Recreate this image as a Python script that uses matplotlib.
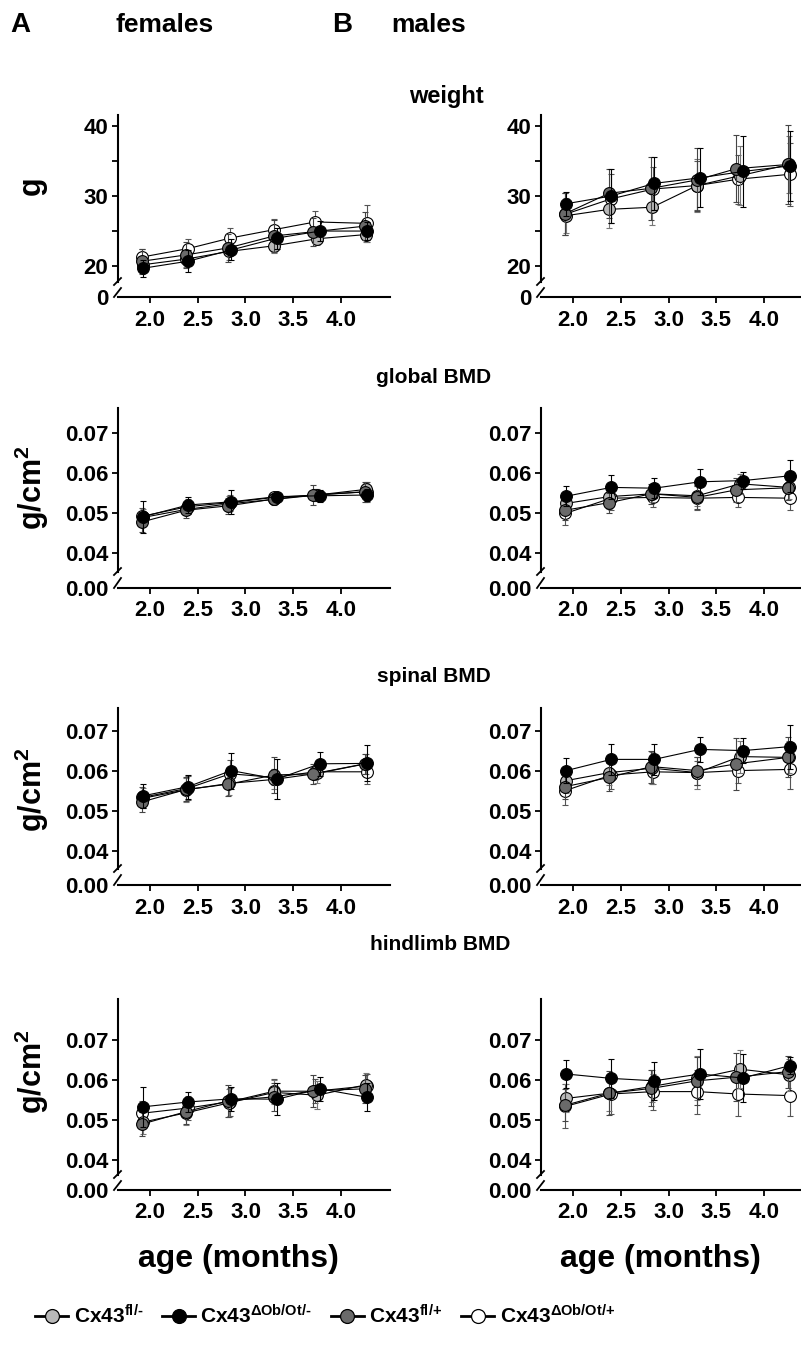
import numpy as np
import matplotlib
matplotlib.use('Agg')
import matplotlib.pyplot as plt
from matplotlib.lines import Line2D

plt.rcParams['font.family'] = ['Liberation Sans', 'DejaVu Sans']
plt.rcParams['font.weight'] = 'bold'
plt.rcParams['mathtext.fontset'] = 'custom'
plt.rcParams['mathtext.rm'] = 'Liberation Sans:bold'
plt.rcParams['mathtext.bf'] = 'Liberation Sans:bold'
plt.rcParams['mathtext.it'] = 'Liberation Sans:bold'

# groups (order: fl/-, dOb/Ot/-, fl/+, dOb/Ot/+)
groups = ['Cx43$^{\\mathbf{fl/\u2010}}$', 'Cx43$^{\\mathbf{ΔOb/Ot/\u2010}}$',
          'Cx43$^{\\mathbf{fl/{+}}}$', 'Cx43$^{\\mathbf{ΔOb/Ot/{+}}}$']
colors = ['#b8b8b8', '#000000', '#6a6a6a', '#ffffff']
ecolors = ['#777777', '#000000', '#444444', '#555555']

# age (months) per group, slightly staggered as in the original
ages = [[1.93, 2.38, 2.83, 3.30, 3.75, 4.26],
        [1.93, 2.40, 2.85, 3.33, 3.78, 4.27],
        [1.92, 2.38, 2.82, 3.30, 3.71, 4.25],
        [1.92, 2.40, 2.84, 3.30, 3.73, 4.27]]

# ---- females ----
fem_weight = [[20.2, 21.0, 22.1, 22.9, 23.9, 24.5],
              [19.7, 20.7, 22.3, 24.0, 25.0, 25.0],
              [20.7, 21.6, 22.6, 24.3, 24.9, 25.7],
              [21.3, 22.5, 24.0, 25.2, 26.3, 26.1]]
fem_weight_sd = [[1.0, 1.2, 1.3, 1.0, 0.9, 1.0],
                 [1.2, 1.6, 1.5, 1.5, 1.4, 1.3],
                 [1.8, 1.9, 2.0, 2.3, 2.0, 2.0],
                 [1.2, 1.3, 1.5, 1.5, 1.5, 2.6]]
fem_global = [[0.0489, 0.0509, 0.0523, 0.0534, 0.0545, 0.0559],
              [0.0491, 0.0520, 0.0528, 0.0541, 0.0543, 0.0545],
              [0.0478, 0.0507, 0.0518, 0.0535, 0.0545, 0.0553],
              [0.0492, 0.0516, 0.0526, 0.0539, 0.0545, 0.0553]]
fem_global_sd = [[0.0020, 0.0015, 0.0020, 0.0015, 0.0015, 0.0015],
                 [0.0040, 0.0020, 0.0030, 0.0010, 0.0015, 0.0015],
                 [0.0025, 0.0020, 0.0020, 0.0012, 0.0025, 0.0025],
                 [0.0020, 0.0018, 0.0020, 0.0012, 0.0015, 0.0025]]
fem_spinal = [[0.0532, 0.0553, 0.0569, 0.0579, 0.0594, 0.0618],
              [0.0538, 0.0561, 0.0601, 0.0580, 0.0618, 0.0619],
              [0.0523, 0.0554, 0.0567, 0.0590, 0.0593, 0.0618],
              [0.0534, 0.0557, 0.0593, 0.0584, 0.0598, 0.0598]]
fem_spinal_sd = [[0.0025, 0.0030, 0.0030, 0.0025, 0.0025, 0.0025],
                 [0.0030, 0.0030, 0.0045, 0.0050, 0.0030, 0.0045],
                 [0.0025, 0.0030, 0.0030, 0.0045, 0.0025, 0.0025],
                 [0.0025, 0.0030, 0.0035, 0.0020, 0.0020, 0.0030]]
fem_hind = [[0.0495, 0.0518, 0.0543, 0.0569, 0.0562, 0.0588],
            [0.0533, 0.0545, 0.0553, 0.0552, 0.0578, 0.0557],
            [0.0490, 0.0521, 0.0548, 0.0558, 0.0573, 0.0578],
            [0.0517, 0.0530, 0.0546, 0.0572, 0.0572, 0.0585]]
fem_hind_sd = [[0.0030, 0.0030, 0.0035, 0.0030, 0.0035, 0.0030],
               [0.0050, 0.0025, 0.0030, 0.0040, 0.0030, 0.0035],
               [0.0030, 0.0030, 0.0040, 0.0035, 0.0040, 0.0035],
               [0.0030, 0.0030, 0.0035, 0.0030, 0.0030, 0.0030]]

# ---- males ----
mal_weight = [[27.2, 28.1, 28.4, 31.5, 32.9, 34.5],
              [28.9, 30.0, 31.8, 32.6, 33.5, 34.3],
              [27.5, 30.4, 31.1, 32.3, 33.9, 34.5],
              [27.4, 29.6, 31.0, 31.5, 32.4, 33.1]]
mal_weight_sd = [[2.5, 2.6, 2.6, 3.8, 4.2, 4.0],
                 [1.7, 3.8, 3.8, 4.2, 5.0, 5.0],
                 [3.0, 3.5, 4.5, 4.5, 4.8, 5.7],
                 [3.0, 3.5, 3.2, 3.5, 3.5, 4.5]]
mal_global = [[0.0524, 0.0541, 0.0548, 0.0543, 0.0573, 0.0564],
              [0.0542, 0.0564, 0.0562, 0.0578, 0.0581, 0.0593],
              [0.0507, 0.0526, 0.0548, 0.0539, 0.0558, 0.0563],
              [0.0499, 0.0537, 0.0539, 0.0537, 0.0539, 0.0537]]
mal_global_sd = [[0.0025, 0.0030, 0.0020, 0.0025, 0.0025, 0.0030],
                 [0.0025, 0.0030, 0.0025, 0.0032, 0.0022, 0.0040],
                 [0.0025, 0.0025, 0.0025, 0.0030, 0.0030, 0.0030],
                 [0.0030, 0.0030, 0.0025, 0.0030, 0.0025, 0.0030]]
mal_spinal = [[0.0576, 0.0596, 0.0607, 0.0596, 0.0636, 0.0634],
              [0.0601, 0.0629, 0.0629, 0.0654, 0.0651, 0.0661],
              [0.0561, 0.0584, 0.0611, 0.0601, 0.0618, 0.0634],
              [0.0551, 0.0590, 0.0598, 0.0596, 0.0601, 0.0604]]
mal_spinal_sd = [[0.0030, 0.0030, 0.0040, 0.0040, 0.0040, 0.0040],
                 [0.0032, 0.0038, 0.0038, 0.0032, 0.0032, 0.0055],
                 [0.0030, 0.0035, 0.0040, 0.0035, 0.0065, 0.0050],
                 [0.0035, 0.0035, 0.0030, 0.0030, 0.0030, 0.0050]]
mal_hind = [[0.0554, 0.0567, 0.0584, 0.0604, 0.0627, 0.0613],
            [0.0615, 0.0604, 0.0598, 0.0615, 0.0605, 0.0636],
            [0.0537, 0.0567, 0.0579, 0.0598, 0.0607, 0.0621],
            [0.0534, 0.0565, 0.0571, 0.0571, 0.0565, 0.0561]]
mal_hind_sd = [[0.0035, 0.0045, 0.0040, 0.0055, 0.0048, 0.0040],
               [0.0035, 0.0048, 0.0048, 0.0062, 0.0060, 0.0022],
               [0.0040, 0.0055, 0.0045, 0.0060, 0.0060, 0.0040],
               [0.0055, 0.0050, 0.0045, 0.0055, 0.0055, 0.0050]]

xticks = [2.0, 2.5, 3.0, 3.5, 4.0]
W, H = 801, 1349

fig = plt.figure(figsize=(W / 100, H / 100), dpi=100)


def rect(x0, y_top, x1, y_bot):
    return [x0 / W, 1 - y_bot / H, (x1 - x0) / W, (y_bot - y_top) / H]


# layout in pixels: main top, main bottom, low top, x-axis line, ylim, ticks
rows = [
    dict(top=115, bot=282, low=289, base=297, ylim=(17.73, 41.56),
         yticks=[20, 30, 40], minor=[25, 35], fmt='{:.0f}', zero='0'),
    dict(top=408, bot=572, low=579, base=588, ylim=(0.03525, 0.07625),
         yticks=[0.04, 0.05, 0.06, 0.07], minor=[], fmt='{:.2f}', zero='0.00'),
    dict(top=708, bot=869, low=876, base=885, ylim=(0.0355, 0.07575),
         yticks=[0.04, 0.05, 0.06, 0.07], minor=[], fmt='{:.2f}', zero='0.00'),
    dict(top=999, bot=1175, low=1182, base=1190, ylim=(0.03625, 0.08025),
         yticks=[0.04, 0.05, 0.06, 0.07], minor=[], fmt='{:.2f}', zero='0.00'),
]
cols = [dict(x0=118, x1=390, xlim=(1.665, 4.513)),
        dict(x0=541, x1=801, xlim=(1.665, 4.387))]

panel_data = [[(fem_weight, fem_weight_sd), (mal_weight, mal_weight_sd)],
              [(fem_global, fem_global_sd), (mal_global, mal_global_sd)],
              [(fem_spinal, fem_spinal_sd), (mal_spinal, mal_spinal_sd)],
              [(fem_hind, fem_hind_sd), (mal_hind, mal_hind_sd)]]

# white drawn first (bottom), black last (top)
draw_order = [3, 0, 2, 1]
tick_fs = 16

for r, row in enumerate(rows):
    for c, col in enumerate(cols):
        means, sds = panel_data[r][c]
        ax = fig.add_axes(rect(col['x0'], row['top'], col['x1'], row['bot']))
        low = fig.add_axes(rect(col['x0'], row['low'], col['x1'], row['base']))

        for k, g in enumerate(draw_order):
            ax.errorbar(ages[g], means[g], yerr=sds[g], color='black', lw=0.8,
                        marker='o', ms=8.5, mfc=colors[g], mec='black', mew=0.8,
                        ecolor=ecolors[g], elinewidth=0.8, capsize=2.5,
                        capthick=0.8, zorder=3 + k, clip_on=False)

        ax.set_xlim(col['xlim'])
        ax.set_ylim(row['ylim'])
        ax.set_yticks(row['yticks'])
        ax.set_yticks(row['minor'], minor=True)
        ax.set_yticklabels([row['fmt'].format(v) for v in row['yticks']])
        ax.set_xticks([])
        for s in ['top', 'right', 'bottom']:
            ax.spines[s].set_visible(False)
        ax.spines['left'].set_linewidth(1.5)
        ax.tick_params(axis='y', which='both', direction='out', length=4,
                       width=1.3, labelsize=tick_fs, pad=3)
        ax.patch.set_alpha(0)

        low.set_xlim(col['xlim'])
        low.set_ylim(0, 1)
        low.set_yticks([0])
        low.set_yticklabels([row['zero']])
        low.set_xticks(xticks)
        low.set_xticklabels(['{:.1f}'.format(v) for v in xticks])
        for s in ['top', 'right', 'left']:
            low.spines[s].set_visible(False)
        low.spines['bottom'].set_linewidth(1.5)
        low.tick_params(axis='y', length=0, labelsize=tick_fs, pad=7)
        low.tick_params(axis='x', direction='out', length=4, width=1.3,
                        labelsize=tick_fs, pad=5)
        low.patch.set_alpha(0)

        # axis break marks
        x = col['x0']
        for yb, yt in [(row['bot'] + 3, row['bot'] - 4),
                       (row['base'], row['low'] - 1)]:
            fig.add_artist(Line2D([(x - 4) / W, (x + 3) / W],
                                  [1 - yb / H, 1 - yt / H],
                                  transform=fig.transFigure, color='black',
                                  lw=1.3))

# headers
fig.text(20 / W, 1 - 25 / H, 'A', fontsize=20, fontweight='bold', ha='center', va='center')
fig.text(165 / W, 1 - 25 / H, 'females', fontsize=19, fontweight='bold', ha='center', va='center')
fig.text(342 / W, 1 - 25 / H, 'B', fontsize=20, fontweight='bold', ha='center', va='center')
fig.text(429 / W, 1 - 25 / H, 'males', fontsize=19, fontweight='bold', ha='center', va='center')

# panel titles
titles = ['weight', 'global BMD', 'spinal BMD', 'hindlimb BMD']
title_pos = [(446, 97), (434, 378), (434, 676), (440, 944)]
title_fs = [17, 15, 15, 15]
for t, (tx, ty), fs in zip(titles, title_pos, title_fs):
    fig.text(tx / W, 1 - ty / H, t, fontsize=fs, fontweight='bold', ha='center', va='center')

# y labels
ylabels = ['g', r'g/cm$^{\mathbf{2}}$', r'g/cm$^{\mathbf{2}}$', r'g/cm$^{\mathbf{2}}$']
ylabel_y = [186, 488, 790, 1072]
for lab, yy in zip(ylabels, ylabel_y):
    fig.text(32 / W, 1 - yy / H, lab, fontsize=22, fontweight='bold', rotation=90,
             ha='center', va='center')

# x labels
for xx in [238, 660]:
    fig.text(xx / W, 1 - 1259 / H, 'age (months)', fontsize=23, fontweight='bold',
             ha='center', va='center')

# legend
handles = [Line2D([], [], color='black', lw=2, marker='o', ms=10, mfc=colors[g],
                  mec='black', mew=0.9) for g in range(4)]
fig.legend(handles, groups, loc='center', bbox_to_anchor=(325 / W, 1 - 1316 / H),
           ncol=4, frameon=False, handlelength=1.6, handletextpad=0.25,
           columnspacing=0.9, prop={'size': 15, 'weight': 'bold'})

fig.savefig('out.png', dpi=100)
